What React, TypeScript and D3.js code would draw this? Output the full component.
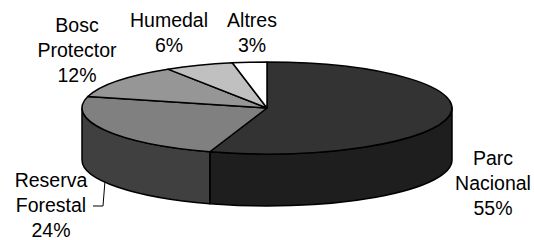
import React from "react";
import * as d3 from "d3";

// slice data, clockwise from 12 o'clock
const categories = ["Parc Nacional", "Reserva Forestal", "Bosc Protector", "Humedal", "Altres"];
const values = [55, 24, 12, 6, 3];
const labelLines = [
  ["Parc", "Nacional", "55%"],
  ["Reserva", "Forestal", "24%"],
  ["Bosc", "Protector", "12%"],
  ["Humedal", "6%"],
  ["Altres", "3%"],
];
const topColors = ["#333333", "#808080", "#969696", "#c0c0c0", "#ffffff"];
const sideColors = ["#1e1e1e", "#404040", "#4b4b4b", "#606060", "#808080"];

// label anchor (center x, first baseline y) -- layout only
const labelPos = [
  { x: 493, y: 165 },
  { x: 51, y: 187 },
  { x: 77, y: 32 },
  { x: 169, y: 27 },
  { x: 252, y: 27 },
];

export default function App() {
  const width = 534;
  const height = 240;
  const cx = 267;
  const cy = 108;
  const rx = 185;
  const ry = 46;
  const depth = 52;
  const lineH = 25;

  const pie = d3
    .pie<number>()
    .sort(null)
    .value((d) => d)
    .startAngle(0)
    .endAngle(2 * Math.PI);
  const arcs = pie(values);

  const pt = (a: number, dy = 0): [number, number] => [
    cx + rx * Math.sin(a),
    cy - ry * Math.cos(a) + dy,
  ];
  const f = (p: [number, number]) => `${p[0].toFixed(2)},${p[1].toFixed(2)}`;

  const topPath = (a0: number, a1: number) => {
    const large = a1 - a0 > Math.PI ? 1 : 0;
    return `M${cx},${cy}L${f(pt(a0))}A${rx},${ry} 0 ${large} 1 ${f(pt(a1))}Z`;
  };

  const wallPath = (a0: number, a1: number) => {
    const b0 = Math.max(a0, Math.PI / 2);
    const b1 = Math.min(a1, (3 * Math.PI) / 2);
    if (b1 <= b0) return null;
    return (
      `M${f(pt(b0))}A${rx},${ry} 0 0 1 ${f(pt(b1))}` +
      `L${f(pt(b1, depth))}A${rx},${ry} 0 0 0 ${f(pt(b0, depth))}Z`
    );
  };

  // leader line for Reserva Forestal
  const resArc = arcs[1];
  const resMid = (resArc.startAngle + resArc.endAngle) / 2;
  const leadEnd = pt(resMid, depth);
  const leaderY = labelPos[1].y + lineH - 6;

  return (
    <svg
      width={width}
      height={height}
      style={{ position: "absolute", left: 0, top: 0, background: "#fff" }}
    >
      <g stroke="#000" strokeWidth={1.5} strokeLinejoin="round">
        {arcs.map((a, i) => {
          const d = wallPath(a.startAngle, a.endAngle);
          return d ? <path key={"w" + i} d={d} fill={sideColors[i]} /> : null;
        })}
        {arcs.map((a, i) => (
          <path key={"t" + i} d={topPath(a.startAngle, a.endAngle)} fill={topColors[i]} />
        ))}
      </g>
      <path
        d={`M${labelPos[1].x + 42},${leaderY}L${labelPos[1].x + 52},${leaderY}L${f(leadEnd)}`}
        fill="none"
        stroke="#000"
        strokeWidth={1}
      />
      <g fontFamily="'Liberation Sans', Arial, sans-serif" fontSize={19.5} fill="#000" textAnchor="middle">
        {labelLines.map((lines, i) => (
          <text key={categories[i]} x={labelPos[i].x} y={labelPos[i].y}>
            {lines.map((t, j) => (
              <tspan key={j} x={labelPos[i].x} dy={j === 0 ? 0 : lineH}>
                {t}
              </tspan>
            ))}
          </text>
        ))}
      </g>
    </svg>
  );
}
